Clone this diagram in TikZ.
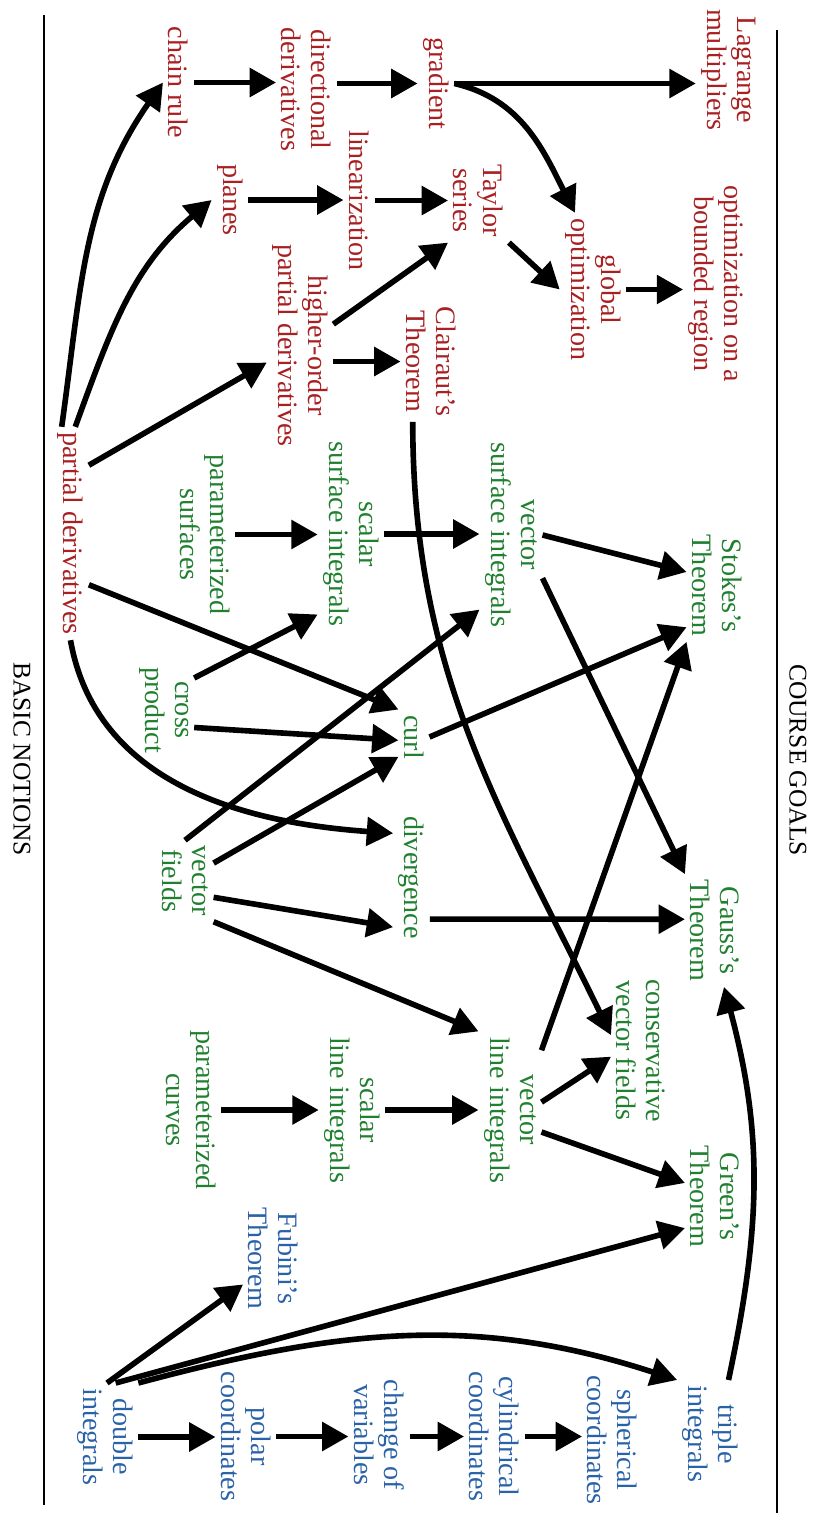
\documentclass[tikz,border=0pt]{standalone}
\usepackage{fontspec}
\setmainfont{Liberation Serif}
\usetikzlibrary{arrows.meta}
\usetikzlibrary{calc}
\definecolor{myred}{RGB}{168,32,34}
\definecolor{mygreen}{RGB}{32,128,48}
\definecolor{myblue}{RGB}{42,98,168}

\begin{document}
\begin{tikzpicture}[rotate=-90, transform shape, x=0.02cm, y=0.02cm,
  txt/.style={align=center, inner sep=3pt, font=\fontsize{16}{17}\selectfont},
  rd/.style={txt, text=myred},
  gr/.style={txt, text=mygreen},
  bl/.style={txt, text=myblue},
  hd/.style={inner sep=2pt, font=\fontsize{14.5}{17}\selectfont},
  arr/.style={line width=3.2pt, -{Triangle[length=15pt,width=16pt]}}]
\useasboundingbox (0,0) rectangle (1515,812);
\draw[line width=0.8pt] (15,44) -- (1505,44);
\draw[line width=0.8pt] (30,777) -- (1513,777);
\node[hd] (goals) at (760,798) {COURSE GOALS};
\node[hd] (basic) at (759,22) {BASIC NOTIONS};

\node[rd] (chain) at (82.5,178.5) {chain rule};
\node[rd] (dirder) at (89.5,306.5) {directional\\derivatives};
\node[rd] (grad) at (83.5,436) {gradient};
\node[rd] (lagr) at (70,728.5) {Lagrange\\multipliers};
\node[rd] (planes) at (200,230) {planes};
\node[rd] (lin) at (200.5,359) {linearization};
\node[rd] (taylor) at (200.5,478.5) {Taylor\\series};
\node[rd] (globopt) at (289.5,593) {global\\optimization};
\node[rd] (bounded) at (284,716) {optimization on a\\bounded region};
\node[rd] (higher) at (345.5,300) {higher-order\\partial derivatives};
\node[rd] (clairaut) at (361.5,431) {Clairaut’s\\Theorem};
\node[rd] (pd) at (533.5,70.5) {partial derivatives};

\node[gr] (parsurf) at (534.5,205) {parameterized\\surfaces};
\node[gr] (ssurf) at (534,351) {scalar\\surface integrals};
\node[gr] (vsurf) at (535,511) {vector\\surface integrals};
\node[gr] (stokes) at (585.5,717) {Stokes’s\\Theorem};
\node[gr] (cross) at (710,164) {cross\\product};
\node[gr] (curl) at (737,414) {curl};
\node[gr] (div) at (877.5,411.5) {divergence};
\node[gr] (vf) at (881,185) {vector\\fields};
\node[gr] (gauss) at (930.5,715) {Gauss’s\\Theorem};
\node[gr] (cons) at (1050.5,641) {conservative\\vector fields};
\node[gr] (vline) at (1110,510) {vector\\line integrals};
\node[gr] (sline) at (1110,352) {scalar\\line integrals};
\node[gr] (parcurv) at (1110,191) {parameterized\\curves};
\node[gr] (green) at (1196.5,715) {Green’s\\Theorem};

\node[bl] (fubini) at (1258.5,273.5) {Fubini’s\\Theorem};
\node[bl] (dbl) at (1437,105) {double\\integrals};
\node[bl] (polar) at (1436.5,246) {polar\\coordinates};
\node[bl] (cov) at (1435,379) {change of\\variables};
\node[bl] (cyl) at (1436.5,494.5) {cylindrical\\coordinates};
\node[bl] (sph) at (1440,612.5) {spherical\\coordinates};
\node[bl] (triple) at (1434,710.5) {triple\\integrals};

\draw[arr] (chain.north) -- (chain.north |- dirder.south);
\draw[arr] (dirder.north -| grad.south) -- (grad.south);
\draw[arr] (grad.north) -- (grad.north |- lagr.south);
\draw[arr] (grad.north) to[out=77,in=207] ($(globopt.south west)!0.23!(globopt.north west)$);
\draw[arr] (planes.north) -- (planes.north |- lin.south);
\draw[arr] (lin.north) -- (lin.north |- taylor.south);
\draw[arr] (taylor.north east) -- (globopt.south);
\draw[arr] (globopt.north) -- (globopt.north |- bounded.south);
\draw[arr] ($(higher.north west)!0.4!(higher.north east)$) -- (taylor.south east);
\draw[arr] (higher.north -| clairaut.south) -- (clairaut.south);
\draw[arr] ($(pd.south west)!0.26!(pd.north west)$) to[out=172,in=-35] (chain.south);
\draw[arr] ($(pd.south west)!0.63!(pd.north west)$) to[out=160,in=-50] (planes.south);
\draw[arr] ($(pd.north west)!0.18!(pd.north east)$) -- ($(higher.south west)!0.58!(higher.south east)$);
\draw[arr] (parsurf.north) -- (parsurf.north |- ssurf.south);
\draw[arr] (ssurf.north) -- (ssurf.north |- vsurf.south);
\draw[arr] (vsurf.north) -- ($(stokes.south west)!0.38!(stokes.south east)$);
\draw[arr] ($(vsurf.north west)!0.72!(vsurf.north east)$) -- (gauss.south west);
\draw[arr] (curl.north) -- ($(stokes.south west)!0.87!(stokes.south east)$);
\draw[arr] ($(vline.north west)!0.12!(vline.north east)$) -- (stokes.south east);
\draw[arr] ($(clairaut.south east)!0.2!(clairaut.north east)$) to[out=0,in=206] ($(cons.south west)!0.4!(cons.south east)$);
\draw[arr] ($(pd.north west)!0.74!(pd.north east)$) -- (curl.south west);
\draw[arr] (pd.east) to[out=10,in=-94] ($(div.south west)!0.17!(div.south east)$);
\draw[arr] ($(cross.north west)!0.17!(cross.north east)$) -- ($(ssurf.south west)!0.91!(ssurf.south east)$);
\draw[arr] ($(cross.north west)!0.68!(cross.north east)$) -- ($(curl.south west)!0.56!(curl.south east)$);
\draw[arr] (vf.west) -- ($(vsurf.south west)!0.88!(vsurf.south east)$);
\draw[arr] ($(vf.north west)!0.28!(vf.north east)$) -- ($(curl.south west)!0.86!(curl.south east)$);
\draw[arr] ($(vf.north west)!0.7!(vf.north east)$) -- ($(div.south west)!0.87!(div.south east)$);
\draw[arr] (vf.north east) -- (vline.south west);
\draw[arr] ($(div.north west)!0.81!(div.north east)$) -- ($(gauss.south west)!0.4!(gauss.south east)$);
\draw[arr] (parcurv.north) -- (parcurv.north |- sline.south);
\draw[arr] (sline.north) -- (sline.north |- vline.south);
\draw[arr] ($(vline.north west)!0.45!(vline.north east)$) -- ($(cons.south west)!0.54!(cons.south east)$);
\draw[arr] ($(vline.north west)!0.64!(vline.north east)$) -- ($(green.south west)!0.38!(green.south east)$);
\draw[arr] ($(dbl.south west)!0.53!(dbl.north west)$) -- ($(fubini.south west)!0.73!(fubini.south east)$);
\draw[arr] ($(dbl.south west)!0.66!(dbl.north west)$) -- ($(green.south west)!0.78!(green.south east)$);
\draw[arr] (dbl.north west) to[out=105,in=-108] (triple.south west);
\draw[arr] (dbl.north) -- (dbl.north |- polar.south);
\draw[arr] (polar.north) -- (polar.north |- cov.south);
\draw[arr] (cov.north -| cyl.south) -- (cyl.south);
\draw[arr] (cyl.north) -- (cyl.north |- sph.south);
\draw[arr] ($(triple.south west)!0.77!(triple.north west)$) to[out=168,in=15] ($(gauss.south east)!0.65!(gauss.north east)$);
\end{tikzpicture}
\end{document}
